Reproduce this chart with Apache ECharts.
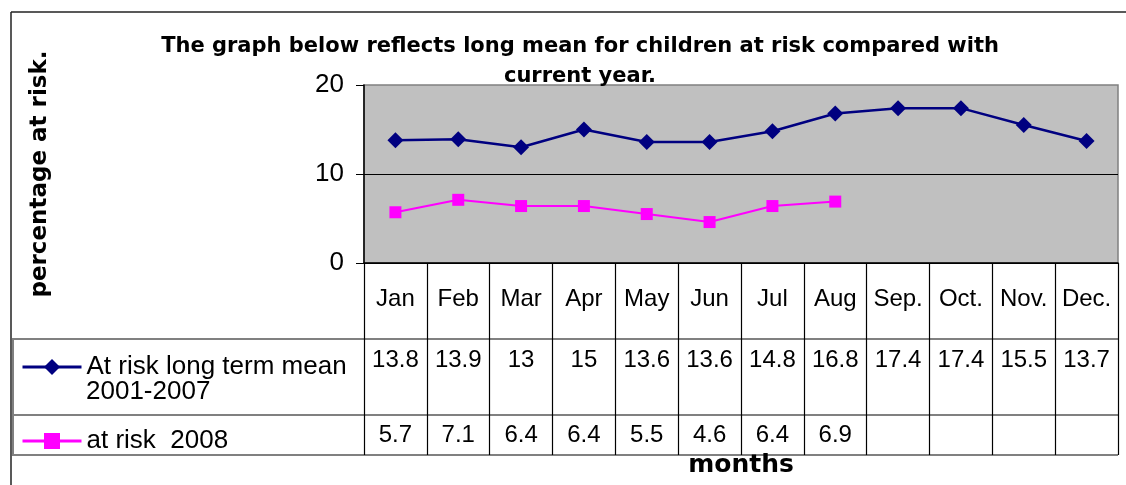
<!DOCTYPE html>
<html>
<head>
<meta charset="utf-8">
<script src="https://cdn.jsdelivr.net/npm/echarts@6/dist/echarts.min.js"></script>
<style>
html, body { margin: 0; padding: 0; background: #fff; }
#main { width: 1126px; height: 485px; }
</style>
</head>
<body>
<div id="main"></div>
<script>
// data
var months = ['Jan', 'Feb', 'Mar', 'Apr', 'May', 'Jun', 'Jul', 'Aug', 'Sep.', 'Oct.', 'Nov.', 'Dec.'];
var longTermMean = [13.8, 13.9, 13, 15, 13.6, 13.6, 14.8, 16.8, 17.4, 17.4, 15.5, 13.7];
var risk2008 = [5.7, 7.1, 6.4, 6.4, 5.5, 4.6, 6.4, 6.9, null, null, null, null];
var yTicks = [0, 10, 20];

var nameLong = 'At risk long term mean';
var nameLongYears = '2001-2007';
var nameCur = 'at risk  2008';

var font = 'Arial, "Liberation Sans", sans-serif';
var wideBold = '"DejaVu Sans", Arial, sans-serif';

var chart = echarts.init(document.getElementById('main'));

function rowAxis(values, margin) {
    return {
        type: 'category', gridIndex: 0, position: 'bottom', data: months,
        boundaryGap: true,
        axisLine: { show: false }, axisTick: { show: false },
        axisLabel: {
            interval: 0, margin: margin, color: '#000', fontSize: 24, fontFamily: font,
            formatter: function (v, i) { return values[i] == null ? '' : String(values[i]); }
        }
    };
}

var option = {
    animation: false,
    backgroundColor: '#fff',
    title: {
        text: 'The graph below reflects long mean for children at risk compared with\ncurrent year.',
        left: 575, top: 27, textAlign: 'center',
        textStyle: { fontFamily: wideBold, fontSize: 21, fontWeight: 'bold', color: '#000', lineHeight: 30 }
    },
    legend: [{
        data: [nameLong], left: 21, top: 354, padding: 0,
        itemWidth: 59, itemHeight: 20, itemGap: 0, selectedMode: false,
        lineStyle: { width: 3 },
        textStyle: { fontFamily: font, fontSize: 26, color: '#000' }
    }, {
        data: [nameCur], left: 21, top: 428, padding: 0,
        itemWidth: 59, itemHeight: 20, itemGap: 0, selectedMode: false,
        lineStyle: { width: 3 },
        textStyle: { fontFamily: font, fontSize: 26, color: '#000' }
    }],
    grid: [{
        left: 364, width: 754, top: 85, height: 178, outerBoundsMode: 'none',
        show: true, backgroundColor: '#C0C0C0', borderColor: '#808080', borderWidth: 1.5
    }, {
        left: 364, width: 754, top: 263, height: 192, outerBoundsMode: 'none', show: false
    }],
    xAxis: [{
        type: 'category', gridIndex: 0, position: 'bottom', data: months, boundaryGap: true,
        axisLine: { show: true, lineStyle: { color: '#000', width: 1.5 } },
        axisTick: { show: false },
        axisLabel: { interval: 0, margin: 24, color: '#000', fontSize: 24, fontFamily: font },
        name: 'months', nameLocation: 'middle', nameGap: 190,
        nameTextStyle: { fontFamily: wideBold, fontSize: 25, fontWeight: 'bold', color: '#000' }
    },
        rowAxis(longTermMean, 85),
        rowAxis(risk2008, 160),
    {
        type: 'category', gridIndex: 1, data: months, boundaryGap: true,
        axisLine: { show: false }, axisTick: { show: false }, axisLabel: { show: false },
        splitLine: { show: true, lineStyle: { color: '#000', width: 1.2 } }
    }],
    yAxis: [{
        type: 'value', gridIndex: 0, min: yTicks[0], max: yTicks[yTicks.length - 1], interval: 10,
        axisLine: { show: true, lineStyle: { color: '#000', width: 1.5 } },
        axisTick: { show: true, length: 8, lineStyle: { color: '#000' } },
        axisLabel: { margin: 20, color: '#000', fontSize: 26, fontFamily: font },
        splitLine: { show: true, showMaxLine: false, lineStyle: { color: '#000', width: 1 } },
        name: 'percentage at risk.', nameLocation: 'middle', nameGap: 312,
        nameTextStyle: { fontFamily: wideBold, fontSize: 23, fontWeight: 'bold', color: '#000' }
    }, {
        type: 'value', gridIndex: 1, show: false, min: 0, max: 1
    }],
    graphic: [
        // frame of the page box
        { type: 'line', shape: { x1: 11, y1: 12, x2: 1126, y2: 12 }, style: { stroke: '#222', lineWidth: 1.5 } },
        { type: 'line', shape: { x1: 11, y1: 12, x2: 11, y2: 485 }, style: { stroke: '#222', lineWidth: 1.5 } },
        // data table rules
        { type: 'line', shape: { x1: 12, y1: 339, x2: 1118, y2: 339 }, style: { stroke: '#808080', lineWidth: 2 } },
        { type: 'line', shape: { x1: 12, y1: 415, x2: 1118, y2: 415 }, style: { stroke: '#808080', lineWidth: 2 } },
        { type: 'line', shape: { x1: 12, y1: 455, x2: 1118, y2: 455 }, style: { stroke: '#808080', lineWidth: 2 } },
        { type: 'line', shape: { x1: 13, y1: 339, x2: 13, y2: 455 }, style: { stroke: '#808080', lineWidth: 2 } },
        // second line of the first legend entry
        { type: 'text', left: 86, top: 379, style: { text: nameLongYears, font: '26px ' + font, fill: '#000' } }
    ],
    series: [{
        name: nameLong, type: 'line', xAxisIndex: 0, yAxisIndex: 0,
        data: longTermMean,
        symbol: 'diamond', symbolSize: 16,
        lineStyle: { color: '#000080', width: 2.5 },
        itemStyle: { color: '#000080' }
    }, {
        name: nameCur, type: 'line', xAxisIndex: 0, yAxisIndex: 0,
        data: risk2008, connectNulls: false,
        symbol: 'rect', symbolSize: 12,
        lineStyle: { color: '#FF00FF', width: 2 },
        itemStyle: { color: '#FF00FF' }
    }]
};

chart.setOption(option);
</script>
</body>
</html>
